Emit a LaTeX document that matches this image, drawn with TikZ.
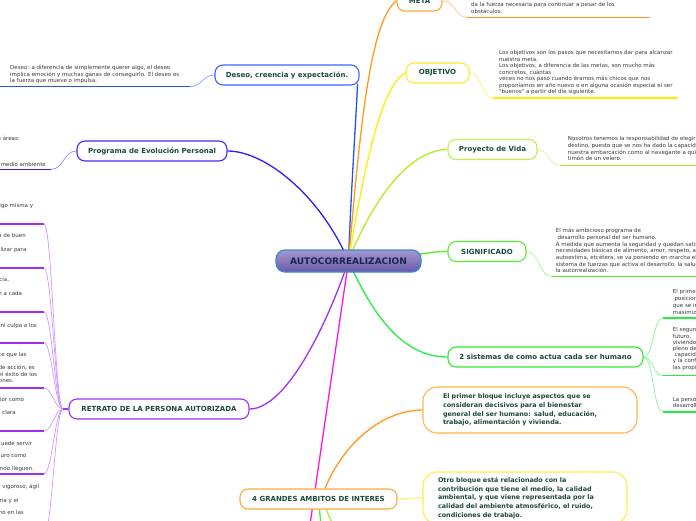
\documentclass[tikz,border=0pt]{standalone}
\usepackage{fontspec}
\newfontfamily\vf{DejaVu Sans}
\usetikzlibrary{backgrounds}
\definecolor{ntext}{HTML}{1B4A3C}
\definecolor{gtext}{HTML}{3A3A3A}
\definecolor{ctext}{HTML}{1A2650}
\definecolor{cOr}{HTML}{FF9A1F}
\definecolor{cOrL}{HTML}{FFC980}
\definecolor{cYe}{HTML}{FFEE00}
\definecolor{cYeL}{HTML}{FFF27A}
\definecolor{cLi}{HTML}{B0F020}
\definecolor{cLiL}{HTML}{D4FA88}
\definecolor{cGr}{HTML}{55EE22}
\definecolor{cGrL}{HTML}{A6F88A}
\definecolor{cGn}{HTML}{22EE44}
\definecolor{cGnL}{HTML}{88F59A}
\definecolor{cBl}{HTML}{2255EE}
\definecolor{cBlL}{HTML}{88A4FF}
\definecolor{cIn}{HTML}{3A1AE8}
\definecolor{cInL}{HTML}{9A8CFF}
\definecolor{cPu}{HTML}{A030F0}
\definecolor{cPuL}{HTML}{D098FF}
\definecolor{cMa}{HTML}{FF18E0}
\definecolor{cCb}{HTML}{3A8AD0}
\definecolor{cCtop}{HTML}{A598D0}
\definecolor{cCbot}{HTML}{6A5AA8}
\definecolor{bMeta}{HTML}{FFA63A}
\definecolor{bObj}{HTML}{FFE833}
\definecolor{bProy}{HTML}{BDF04A}
\definecolor{bSig}{HTML}{5CEB3A}
\definecolor{bSis}{HTML}{33E833}
\definecolor{bDes}{HTML}{3A66FF}
\definecolor{bProg}{HTML}{4A2AF0}
\definecolor{bRet}{HTML}{9A33EE}
\definecolor{bGr}{HTML}{FFA640}
\definecolor{bB1}{HTML}{FFB44A}
\definecolor{bB2}{HTML}{FFEE44}
\begin{document}
\begin{tikzpicture}[x=1pt,y=-1pt,
 topic/.style={draw, rounded corners=8pt, fill=white, line width=1.1pt, minimum height=20pt, inner sep=0pt, font=\vf\bfseries\fontsize{7}{8}\selectfont, text=ntext},
 note/.style={inner sep=0pt, anchor=north west, align=left, font=\vf\fontsize{5.5}{6.6}\selectfont, text=gtext, execute at begin node={\rule{0pt}{4.4pt}}},
 frag/.style={inner sep=0pt, anchor=base east, font=\vf\fontsize{5.5}{6.6}\selectfont, text=gtext},
 mainline/.style={line width=1.3pt},
 subline/.style={line width=0.7pt},
 ul/.style={line width=1.4pt},
 bubble/.style={draw, rounded corners=14pt, fill=white, line width=1.1pt, inner sep=0pt, align=left, text width=174pt, font=\vf\bfseries\fontsize{6.4}{8.7}\selectfont, text=ntext},
]
\useasboundingbox (0,0) rectangle (696,520);

% central node
\node[draw=cCb, line width=1.2pt, rounded corners=9pt, top color=cCtop, bottom color=cCbot, minimum width=145pt, minimum height=22pt, inner sep=0pt, font=\vf\bfseries\fontsize{9}{10}\selectfont, text=ctext] (c) at (348.5,261) {AUTOCORREALIZACION};

% topics
\node[topic, draw=bMeta, minimum width=45pt] (meta) at (419.5,1) {META};
\node[topic, draw=bObj, minimum width=63pt] (obj) at (437.5,73) {OBJETIVO};
\node[topic, draw=bProy, minimum width=89pt] (proy) at (492.5,149.5) {Proyecto de Vida};
\node[topic, draw=bSig, minimum width=78pt] (sig) at (487,251.5) {SIGNIFICADO};
\node[topic, draw=bSis, minimum width=195pt] (sis) at (545.5,357) {2 sistemas de como actua cada ser humano};
\node[topic, draw=bDes, minimum width=144pt] (des) at (287,75) {Deseo, creencia y expectación.};
\node[topic, draw=bProg, minimum width=150pt] (prog) at (152,151) {Programa de Evolución Personal};
\node[topic, draw=bRet, minimum width=180pt] (ret) at (159,409) {RETRATO DE LA PERSONA AUTORIZADA};
\node[topic, draw=bGr, minimum width=157pt] (gr) at (318.5,499) {4 GRANDES AMBITOS DE INTERES};

% bubbles
\node[bubble, draw=bB1, minimum width=214pt, minimum height=46pt] (b1) at (530,410) {El primer bloque incluye aspectos que se\\consideran decisivos para el bienestar\\general del ser humano: salud, educación,\\trabajo, alimentación y vivienda.};
\node[bubble, draw=bB2, minimum width=204pt, minimum height=52pt] (b2) at (525,498) {Otro bloque está relacionado con la\\contribución que tiene el medio, la calidad\\ambiental, y que viene representada por la\\calidad del ambiente atmosférico, el ruido,\\condiciones de trabajo.};

% notes
\node[note] (nmeta) at (471,2.3) {da la fuerza necesaria para continuar a pesar de los\\obstáculos.};
\node[note, font=\vf\fontsize{5.5}{6.5}\selectfont] (nobj) at (499,50.3) {Los objetivos son los pasos que necesitamos dar para alcanzar\\nuestra meta.\\Los objetivos, a diferencia de las metas, son mucho más\\concretos, cuántas\\veces no nos pasó cuando éramos más chicos que nos\\proponíamos en año nuevo o en alguna ocasión especial el ser\\"buenos" a partir del día siguiente.};
\node[note] (nproy) at (567.7,136.6) {Nosotros tenemos la responsabilidad de elegir nuestro\\destino, puesto que se nos ha dado la capacidad de\\nuestra embarcación como al navegante a quien se le da el\\timón de un velero.};
\node[note, font=\vf\fontsize{5.5}{6.67}\selectfont] (nsig) at (555.7,228.3) {El más ambicioso programa de\\\ desarrollo personal del ser humano.\\A medida que aumenta la seguridad y quedan satisfechas las\\necesidades básicas de alimento, amor, respeto, aprecio,\\autoestima, etcétera, se va poniendo en marcha el\\sistema de fuerzas que activa el desarrollo, la salud y\\la autorrealización.};
\node[note, font=\vf\fontsize{5.5}{6.8}\selectfont] (nsa) at (672.7,289.3) {El primer\\\ posicionamiento\\que se intenta\\maximizar};
\node[note, font=\vf\fontsize{5.5}{6.2}\selectfont] (nsb) at (672.7,327.6) {El segundo\\futuro,\\viviendo\\pleno de\\\ capacidad\\y la confianza\\las propias};
\node[note, font=\vf\fontsize{5.5}{6.4}\selectfont] (nsc) at (672.7,396.9) {La persona\\desarrollo};
\node[note, font=\vf\fontsize{5.5}{6.8}\selectfont] (ndes) at (10,64.9) {Deseo: a diferencia de simplemente querer algo, el deseo\\implica emoción y muchas ganas de conseguirlo. El deseo es\\la fuerza que mueve o impulsa.};

% left fragments
\node[frag] (fp1) at (20,140.3) {e áreas:};
\node[frag] (fp2) at (46,166.3) {medio ambiente};
\node[frag] (fr1) at (33.3,207) {igo misma y};
\node[frag] (fr2) at (26,237.7) {a de buen};
\node[frag] (fr3) at (26.7,251.3) {lizar para};
\node[frag] (fr4) at (9.3,281) {cia,};
\node[frag] (fr5) at (22.3,295.3) {n a cada};
\node[frag] (fr6) at (37,327.7) {ni culpa a los};
\node[frag] (fr7) at (26.7,356) {ce que las};
\node[frag] (fr8) at (35,369.5) {de acción, es};
\node[frag] (fr9) at (37.3,376.2) {el éxito de los};
\node[frag] (fr10) at (14,382.9) {iones.};
\node[frag] (fr11) at (24.3,401.3) {rior como};
\node[frag] (fr12) at (16,414) {a clara};
\node[frag] (fr13) at (32.3,445.3) {uede servir};
\node[frag] (fr14) at (26.7,457.7) {uro como};
\node[frag] (fr15) at (34.3,470.3) {ndo lleguen.};
\node[frag] (fr16) at (39.3,488) {vigoroso, ágil};
\node[frag] (fr17) at (18.7,502) {ría y el};
\node[frag] (fr18) at (24,514.7) {no en las};

% coordinates for underlines and free ends
\coordinate (mu1) at (467,17.3); \coordinate (mu2) at (650,17.3);
\coordinate (ou1) at (493,98); \coordinate (ou2) at (678,98);
\coordinate (pu1) at (560,165.3); \coordinate (pu2) at (700,165.3);
\coordinate (su1) at (552,276.7); \coordinate (su2) at (700,276.7);
\coordinate (sa1) at (663,318); \coordinate (sa2) at (700,318);
\coordinate (sb1) at (663,375.7); \coordinate (sb2) at (700,375.7);
\coordinate (sc1) at (663,412); \coordinate (sc2) at (700,412);
\coordinate (du1) at (190,86.7); \coordinate (du2) at (-5,86.7);
\coordinate (gu1) at (51,169.3); \coordinate (gu2) at (-5,169.3);
\coordinate (rf) at (63,409);
\coordinate (mag) at (307,545);
\coordinate (gd1) at (322,535);
\coordinate (gd2) at (338,535);

\begin{scope}[on background layer]
\fill[white] (0,0) rectangle (696,520);
% main connectors
\draw[mainline, cBl] (c.center) .. controls (351,190) and (356,120) .. ([xshift=-2pt,yshift=2pt]des.south east);
\draw[mainline, cIn] (c.center) .. controls (320,195) and (265,151) .. (prog.east);
\draw[mainline, cPu] (c.center) .. controls (325,330) and (285,409) .. (ret.east);
\draw[mainline, cMa] (c.center) -- (mag);
\draw[mainline, cOr] (c.center) .. controls (360,130) and (370,20) .. (meta.west);
\draw[mainline, cYe] (c.center) .. controls (362,180) and (380,85) .. (obj.west);
\draw[mainline, cLi] (c.center) .. controls (368,210) and (405,150) .. (proy.west);
\draw[mainline, cGr] (c.center) .. controls (400,261) and (420,251.5) .. (sig.west);
\draw[mainline, cGn] (c.center) .. controls (375,320) and (405,357) .. (sis.west);
% 4 grandes
\draw[mainline, cOr] ([xshift=6.5pt]gr.north) .. controls (345,440) and (385,410) .. (b1.west);
\draw[mainline, cYeL] (gr.east) -- (b2.west);
\draw[mainline, cGr] ([xshift=1pt]gr.south) .. controls (320,515) and (321,525) .. (gd1);
\draw[mainline, cLi] ([xshift=8pt]gr.south) .. controls (328,515) and (333,525) .. (gd2);
% note connectors
\draw[subline, cOrL] (meta.east) .. controls +(13,0) and +(-12,0) .. (mu1);
\draw[ul, cOr] (mu1) -- (mu2);
\draw[subline, cYeL] (obj.east) .. controls +(13,0) and +(-12,0) .. (ou1);
\draw[ul, cYe] (ou1) -- (ou2);
\draw[subline, cLiL] (proy.east) .. controls +(12,0) and +(-12,0) .. (pu1);
\draw[ul, cLi] (pu1) -- (pu2);
\draw[subline, cGrL] (sig.east) .. controls +(13,0) and +(-13,0) .. (su1);
\draw[ul, cGr] (su1) -- (su2);
\draw[subline, cGnL] (sis.east) .. controls +(10,0) and +(-10,0) .. (sa1);
\draw[subline, cGnL] (sis.east) .. controls +(10,0) and +(-10,0) .. (sb1);
\draw[subline, cGnL] (sis.east) .. controls +(10,0) and +(-10,0) .. (sc1);
\draw[ul, cGn] (sa1) -- (sa2);
\draw[ul, cGn] (sb1) -- (sb2);
\draw[ul, cGn] (sc1) -- (sc2);
\draw[subline, cBlL] (des.west) .. controls +(-12,0) and +(12,0) .. (du1);
\draw[ul, cBl] (du1) -- (du2);
\draw[subline, cInL] (prog.west) .. controls +(-13,0) and +(13,0) .. (gu1);
\draw[ul, cIn] (gu1) -- (gu2);
% retrato fan
\draw[ul, cPu] (ret.west) -- (rf);
\foreach \yy in {224,268,312,343,388,431,474,535} {
  \draw[subline, cPuL] (rf) .. controls (55,409) and (52,\yy) .. (44,\yy);
  \draw[ul, cPu] (44,\yy) -- (-5,\yy);
}
\end{scope}
\end{tikzpicture}
\end{document}
